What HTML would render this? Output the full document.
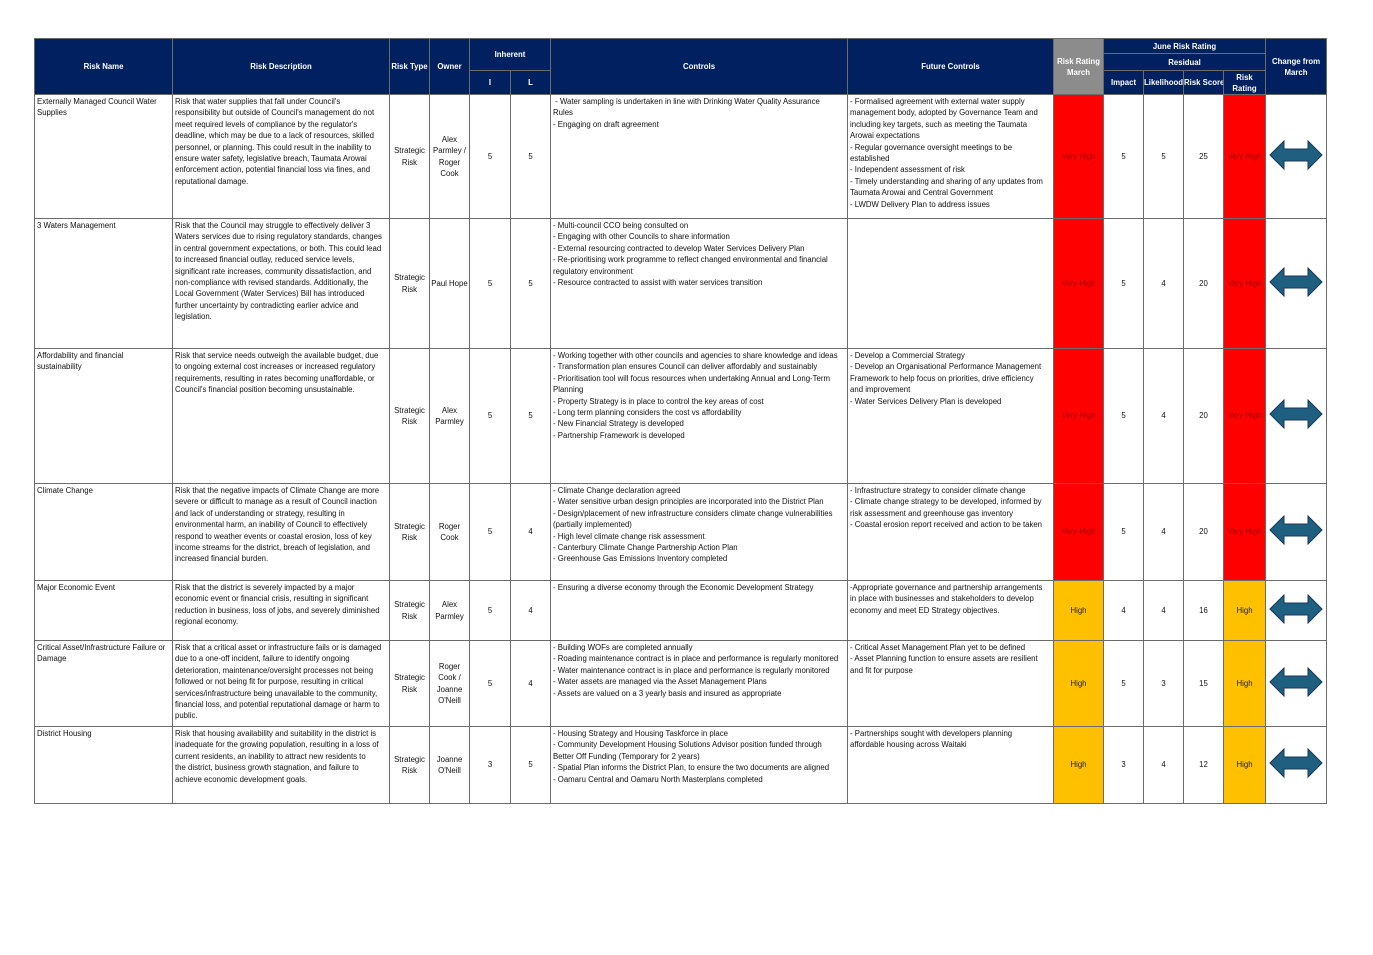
<!DOCTYPE html>
<html><head><meta charset="utf-8">
<style>
html,body{margin:0;padding:0;background:#fff;width:1373px;height:955px;overflow:hidden}
table{position:absolute;left:34px;top:38px;width:1292px;border-collapse:collapse;table-layout:fixed;font-family:"Liberation Sans",sans-serif;font-size:7.8px;line-height:11.4px;color:#111}
td,th{border:1px solid #6b6b6b;padding:0 1px 0 2px;overflow:hidden}
th{background:#002060;color:#fff;font-weight:bold;text-align:center;vertical-align:middle;line-height:11px;white-space:nowrap;padding:0}
th.g{background:#8c8c8c}
td{vertical-align:top;white-space:nowrap;padding-top:1px}
td.c{text-align:center;vertical-align:middle;white-space:normal;padding:0}
td.vh{background:#ff0000;color:#a00000;text-align:center;vertical-align:middle;padding:0}
td.h{background:#ffc000;color:#222;text-align:center;vertical-align:middle;padding:0}
td.a{text-align:center;vertical-align:middle;padding:0}
</style></head><body>
<table>
<colgroup>
<col style="width:138px"><col style="width:217px"><col style="width:40px"><col style="width:40px"><col style="width:41px"><col style="width:40px"><col style="width:297px"><col style="width:206px"><col style="width:50px"><col style="width:40px"><col style="width:40px"><col style="width:40px"><col style="width:42px"><col style="width:61px">
</colgroup>
<tr style="height:15px"><th rowspan="3">Risk Name</th><th rowspan="3">Risk Description</th><th rowspan="3">Risk Type</th><th rowspan="3">Owner</th><th colspan="2" rowspan="2">Inherent</th><th rowspan="3">Controls</th><th rowspan="3">Future Controls</th><th rowspan="3" class="g">Risk Rating<br>March</th><th colspan="4">June Risk Rating</th><th rowspan="3">Change from<br>March</th></tr>
<tr style="height:17px"><th colspan="4">Residual</th></tr>
<tr style="height:24px"><th>I</th><th>L</th><th>Impact</th><th>Likelihood</th><th>Risk Score</th><th>Risk<br>Rating</th></tr>

<tr style="height:124px"><td>Externally Managed Council Water<br>Supplies</td><td>Risk that water supplies that fall under Council's<br>responsibility but outside of Council's management do not<br>meet required levels of compliance by the regulator's<br>deadline, which may be due to a lack of resources, skilled<br>personnel, or planning. This could result in the inability to<br>ensure water safety, legislative breach, Taumata Arowai<br>enforcement action, potential financial loss via fines, and<br>reputational damage.</td><td class="c">Strategic Risk</td><td class="c">Alex Parmley / Roger Cook</td><td class="c">5</td><td class="c">5</td><td>&nbsp;- Water sampling is undertaken in line with Drinking Water Quality Assurance<br>Rules<br>- Engaging on draft agreement</td><td>- Formalised agreement with external water supply<br>management body, adopted by Governance Team and<br>including key targets, such as meeting the Taumata<br>Arowai expectations<br>- Regular governance oversight meetings to be<br>established<br>- Independent assessment of risk<br>- Timely understanding and sharing of any updates from<br>Taumata Arowai and Central Government<br>- LWDW Delivery Plan to address issues</td><td class="vh">Very High</td><td class="c">5</td><td class="c">5</td><td class="c">25</td><td class="vh">Very High</td><td class="a"><svg width="54" height="30" viewBox="-1 -1 54 30"><path d="M0,14 L14,0 L14,8 L38,8 L38,0 L52,14 L38,28 L38,20 L14,20 L14,28 Z" fill="#1f5f80" stroke="#17375e" stroke-width="1"/></svg></td></tr>

<tr style="height:130px"><td>3 Waters Management</td><td>Risk that the Council may struggle to effectively deliver 3<br>Waters services due to rising regulatory standards, changes<br>in central government expectations, or both. This could lead<br>to increased financial outlay, reduced service levels,<br>significant rate increases, community dissatisfaction, and<br>non-compliance with revised standards. Additionally, the<br>Local Government (Water Services) Bill has introduced<br>further uncertainty by contradicting earlier advice and<br>legislation.</td><td class="c">Strategic Risk</td><td class="c" style="white-space:nowrap">Paul Hope</td><td class="c">5</td><td class="c">5</td><td>- Multi-council CCO being consulted on<br>- Engaging with other Councils to share information<br>- External resourcing contracted to develop Water Services Delivery Plan<br>- Re-prioritising work programme to reflect changed environmental and financial<br>regulatory environment<br>- Resource contracted to assist with water services transition</td><td></td><td class="vh">Very High</td><td class="c">5</td><td class="c">4</td><td class="c">20</td><td class="vh">Very High</td><td class="a"><svg width="54" height="30" viewBox="-1 -1 54 30"><path d="M0,14 L14,0 L14,8 L38,8 L38,0 L52,14 L38,28 L38,20 L14,20 L14,28 Z" fill="#1f5f80" stroke="#17375e" stroke-width="1"/></svg></td></tr>

<tr style="height:135px"><td>Affordability and financial<br>sustainability</td><td>Risk that service needs outweigh the available budget, due<br>to ongoing external cost increases or increased regulatory<br>requirements, resulting in rates becoming unaffordable, or<br>Council's financial position becoming unsustainable.</td><td class="c">Strategic Risk</td><td class="c">Alex Parmley</td><td class="c">5</td><td class="c">5</td><td>- Working together with other councils and agencies to share knowledge and ideas<br>- Transformation plan ensures Council can deliver affordably and sustainably<br>- Prioritisation tool will focus resources when undertaking Annual and Long-Term<br>Planning<br>- Property Strategy is in place to control the key areas of cost<br>- Long term planning considers the cost vs affordability<br>- New Financial Strategy is developed<br>- Partnership Framework is developed</td><td>- Develop a Commercial Strategy<br>- Develop an Organisational Performance Management<br>Framework to help focus on priorities, drive efficiency<br>and improvement<br>- Water Services Delivery Plan is developed</td><td class="vh">Very High</td><td class="c">5</td><td class="c">4</td><td class="c">20</td><td class="vh">Very High</td><td class="a"><svg width="54" height="30" viewBox="-1 -1 54 30"><path d="M0,14 L14,0 L14,8 L38,8 L38,0 L52,14 L38,28 L38,20 L14,20 L14,28 Z" fill="#1f5f80" stroke="#17375e" stroke-width="1"/></svg></td></tr>

<tr style="height:97px"><td>Climate Change</td><td>Risk that the negative impacts of Climate Change are more<br>severe or difficult to manage as a result of Council inaction<br>and lack of understanding or strategy, resulting in<br>environmental harm, an inability of Council to effectively<br>respond to weather events or coastal erosion, loss of key<br>income streams for the district, breach of legislation, and<br>increased financial burden.</td><td class="c">Strategic Risk</td><td class="c">Roger Cook</td><td class="c">5</td><td class="c">4</td><td>- Climate Change declaration agreed<br>- Water sensitive urban design principles are incorporated into the District Plan<br>- Design/placement of new infrastructure considers climate change vulnerabilities<br>(partially implemented)<br>- High level climate change risk assessment<br>- Canterbury Climate Change Partnership Action Plan<br>- Greenhouse Gas Emissions Inventory completed</td><td>- Infrastructure strategy to consider climate change<br>- Climate change strategy to be developed, informed by<br>risk assessment and greenhouse gas inventory<br>- Coastal erosion report received and action to be taken</td><td class="vh">Very High</td><td class="c">5</td><td class="c">4</td><td class="c">20</td><td class="vh">Very High</td><td class="a"><svg width="54" height="30" viewBox="-1 -1 54 30"><path d="M0,14 L14,0 L14,8 L38,8 L38,0 L52,14 L38,28 L38,20 L14,20 L14,28 Z" fill="#1f5f80" stroke="#17375e" stroke-width="1"/></svg></td></tr>

<tr style="height:60px"><td>Major Economic Event</td><td>Risk that the district is severely impacted by a major<br>economic event or financial crisis, resulting in significant<br>reduction in business, loss of jobs, and severely diminished<br>regional economy.</td><td class="c">Strategic Risk</td><td class="c">Alex Parmley</td><td class="c">5</td><td class="c">4</td><td>- Ensuring a diverse economy through the Economic Development Strategy</td><td>-Appropriate governance and partnership arrangements<br>in place with businesses and stakeholders to develop<br>economy and meet ED Strategy objectives.</td><td class="h">High</td><td class="c">4</td><td class="c">4</td><td class="c">16</td><td class="h">High</td><td class="a"><svg width="54" height="30" viewBox="-1 -1 54 30"><path d="M0,14 L14,0 L14,8 L38,8 L38,0 L52,14 L38,28 L38,20 L14,20 L14,28 Z" fill="#1f5f80" stroke="#17375e" stroke-width="1"/></svg></td></tr>

<tr style="height:86px"><td>Critical Asset/Infrastructure Failure or<br>Damage</td><td>Risk that a critical asset or infrastructure fails or is damaged<br>due to a one-off incident, failure to identify ongoing<br>deterioration, maintenance/oversight processes not being<br>followed or not being fit for purpose, resulting in critical<br>services/infrastructure being unavailable to the community,<br>financial loss, and potential reputational damage or harm to<br>public.</td><td class="c">Strategic Risk</td><td class="c">Roger Cook / Joanne O'Neill</td><td class="c">5</td><td class="c">4</td><td>- Building WOFs are completed annually<br>- Roading maintenance contract is in place and performance is regularly monitored<br>- Water maintenance contract is in place and performance is regularly monitored<br>- Water assets are managed via the Asset Management Plans<br>- Assets are valued on a 3 yearly basis and insured as appropriate</td><td>- Critical Asset Management Plan yet to be defined<br>- Asset Planning function to ensure assets are resilient<br>and fit for purpose</td><td class="h">High</td><td class="c">5</td><td class="c">3</td><td class="c">15</td><td class="h">High</td><td class="a"><svg width="54" height="30" viewBox="-1 -1 54 30"><path d="M0,14 L14,0 L14,8 L38,8 L38,0 L52,14 L38,28 L38,20 L14,20 L14,28 Z" fill="#1f5f80" stroke="#17375e" stroke-width="1"/></svg></td></tr>

<tr style="height:77px"><td>District Housing</td><td>Risk that housing availability and suitability in the district is<br>inadequate for the growing population, resulting in a loss of<br>current residents, an inability to attract new residents to<br>the district, business growth stagnation, and failure to<br>achieve economic development goals.</td><td class="c">Strategic Risk</td><td class="c">Joanne O'Neill</td><td class="c">3</td><td class="c">5</td><td>- Housing Strategy and Housing Taskforce in place<br>- Community Development Housing Solutions Advisor position funded through<br>Better Off Funding (Temporary for 2 years)<br>- Spatial Plan informs the District Plan, to ensure the two documents are aligned<br>- Oamaru Central and Oamaru North Masterplans completed</td><td>- Partnerships sought with developers planning<br>affordable housing across Waitaki</td><td class="h">High</td><td class="c">3</td><td class="c">4</td><td class="c">12</td><td class="h">High</td><td class="a"><svg width="54" height="30" viewBox="-1 -1 54 30"><path d="M0,14 L14,0 L14,8 L38,8 L38,0 L52,14 L38,28 L38,20 L14,20 L14,28 Z" fill="#1f5f80" stroke="#17375e" stroke-width="1"/></svg></td></tr>
</table>
</body></html>
